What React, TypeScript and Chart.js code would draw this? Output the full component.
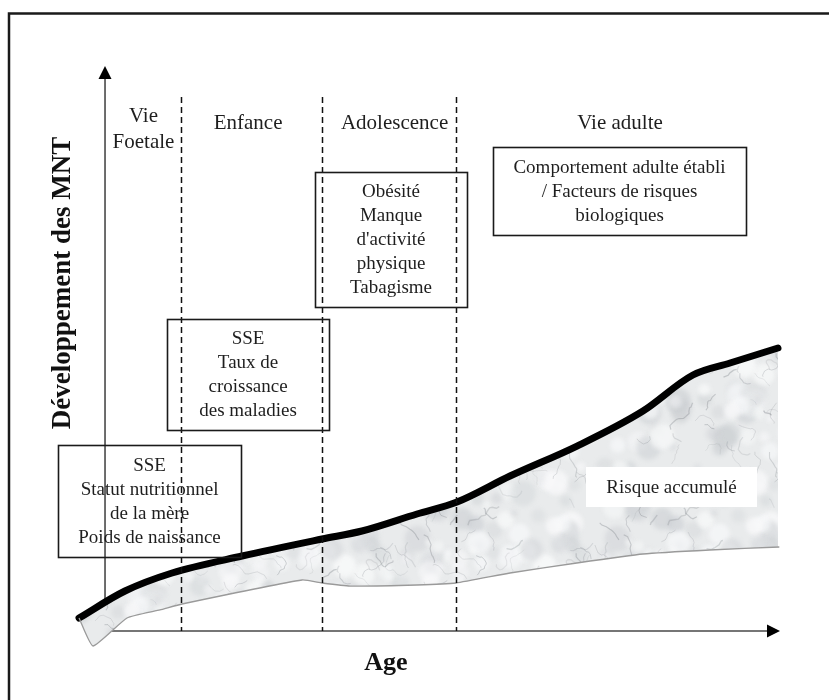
import { useEffect, useRef } from "react";
import { Chart, registerables } from "chart.js";

Chart.register(...registerables);

// ---- Data (abstract units: Age 0..100 along the x arrow, risk 0..100 along the y arrow)
const AGE_UPPER = [-3.85, 2.96, 9.93, 20.3, 32.15, 38.07, 46.22, 52.15, 60.0, 69.93, 79.7, 87.1, 92.6, 99.7];
const RISK_UPPER = [2.3, 7.08, 10.27, 13.27, 16.28, 17.7, 20.71, 22.83, 27.43, 32.74, 38.94, 45.31, 47.43, 50.09];
const AGE_LOWER = [-3.85, -1.78, 3.26, 8.15, 11.4, 29.2, 32.15, 36.3, 46.2, 52.0, 60.0, 69.9, 79.7, 89.6, 99.9];
const RISK_LOWER = [2.3, -2.65, 2.3, 3.72, 4.78, 9.03, 8.5, 7.96, 8.14, 8.5, 10.27, 12.04, 13.63, 14.34, 14.87];

const AGE_MIN = -15.56;
const AGE_MAX = 107.26;
const RISK_MIN = -12.21;
const RISK_MAX = 111.68;

const AXIS_END = 100;
const STAGE_BOUNDARIES = [11.26, 32.15, 52.0];
const BOUNDARY_TOP = 94.5;

const PHASE_LABELS = [["Vie", "Foetale"], ["Enfance"], ["Adolescence"], ["Vie adulte"]];
const PHASE_AGE = [5.7, 21.2, 42.9, 76.3];
const PHASE_RISK = [88.7, 89.9, 89.9, 89.9];

const BOX_LINES = [
  ["SSE", "Statut nutritionnel", "de la mère", "Poids de naissance"],
  ["SSE", "Taux de", "croissance", "des maladies"],
  ["Obésité", "Manque", "d'activité", "physique", "Tabagisme"],
  ["Comportement adulte établi", "/ Facteurs de risques", "biologiques"],
];
const BOX_AGE_FROM = [-6.96, 9.19, 31.11, 57.48];
const BOX_AGE_TO = [20.15, 33.19, 53.63, 94.96];
const BOX_RISK_TOP = [32.92, 55.22, 81.24, 85.66];
const BOX_RISK_BOTTOM = [13.1, 35.58, 57.35, 70.09];

const RISK_LABEL = "Risque accumulé";
const RISK_LABEL_AGE = [71.26, 96.59];
const RISK_LABEL_RISK = [29.03, 21.95];

const Y_TITLE = "Développement des MNT";
const Y_TITLE_POS = [-6.22, 61.6];
const X_TITLE = "Age";
const X_TITLE_POS = [41.6, -5.66];

const SERIF = '"Liberation Serif", "Times New Roman", serif';

function makeMarble(): CanvasPattern | string {
  const size = 200;
  const c = document.createElement("canvas");
  c.width = size;
  c.height = size;
  const g = c.getContext("2d");
  if (!g) return "#e9eaeb";
  g.fillStyle = "#e9ebec";
  g.fillRect(0, 0, size, size);
  let s = 424242;
  const rnd = () => {
    s = (s * 1103515245 + 12345) & 0x7fffffff;
    return s / 0x7fffffff;
  };
  const offs = [-size, 0, size];
  (g as any).filter = "blur(2px)";
  for (let i = 0; i < 120; i++) {
    const x = rnd() * size;
    const y = rnd() * size;
    const r = 3 + rnd() * 10;
    const light = rnd() > 0.45;
    g.fillStyle = light ? `rgba(248,249,250,${0.4 + rnd() * 0.4})` : `rgba(200,204,208,${0.25 + rnd() * 0.3})`;
    for (const dx of offs)
      for (const dy of offs) {
        g.beginPath();
        g.arc(x + dx, y + dy, r, 0, Math.PI * 2);
        g.fill();
      }
  }
  (g as any).filter = "blur(0.6px)";
  for (let i = 0; i < 60; i++) {
    const pts: number[][] = [];
    let x = rnd() * size;
    let y = rnd() * size;
    let a = rnd() * Math.PI * 2;
    const steps = (4 + rnd() * 10) | 0;
    for (let k = 0; k < steps; k++) {
      pts.push([x, y]);
      a += (rnd() - 0.5) * 2.0;
      const len = 1.5 + rnd() * 3.5;
      x += Math.cos(a) * len;
      y += Math.sin(a) * len;
    }
    g.strokeStyle = `rgba(110,115,122,${0.12 + rnd() * 0.22})`;
    g.lineWidth = 0.6 + rnd() * 0.9;
    for (const dx of offs)
      for (const dy of offs) {
        g.beginPath();
        pts.forEach((p, k) => (k === 0 ? g.moveTo(p[0] + dx, p[1] + dy) : g.lineTo(p[0] + dx, p[1] + dy)));
        g.stroke();
      }
  }
  (g as any).filter = "none";
  return g.createPattern(c, "repeat") || "#e9eaeb";
}

const diagramPlugin = {
  id: "diagram",
  beforeDatasetsDraw(chart: any) {
    const ctx: CanvasRenderingContext2D = chart.ctx;
    const xs = chart.scales.x;
    const ys = chart.scales.y;
    const px = (v: number) => xs.getPixelForValue(v);
    const py = (v: number) => ys.getPixelForValue(v);
    ctx.save();
    // outer frame
    ctx.strokeStyle = "#1a1a1a";
    ctx.lineWidth = 2.5;
    ctx.beginPath();
    ctx.moveTo(9, 710);
    ctx.lineTo(9, 13.5);
    ctx.lineTo(840, 13.5);
    ctx.stroke();
    // axes
    const x0 = px(0);
    const y0 = py(0);
    const xEnd = px(AXIS_END);
    const yEnd = py(AXIS_END);
    ctx.strokeStyle = "#4a4a4a";
    ctx.lineWidth = 1.6;
    ctx.beginPath();
    ctx.moveTo(x0, y0);
    ctx.lineTo(x0, yEnd + 10);
    ctx.moveTo(x0, y0);
    ctx.lineTo(xEnd - 10, y0);
    ctx.stroke();
    ctx.fillStyle = "#000";
    ctx.beginPath();
    ctx.moveTo(x0, yEnd);
    ctx.lineTo(x0 - 6.5, yEnd + 13);
    ctx.lineTo(x0 + 6.5, yEnd + 13);
    ctx.closePath();
    ctx.fill();
    ctx.beginPath();
    ctx.moveTo(xEnd, y0);
    ctx.lineTo(xEnd - 13, y0 - 6.5);
    ctx.lineTo(xEnd - 13, y0 + 6.5);
    ctx.closePath();
    ctx.fill();
    ctx.restore();
  },
  afterDatasetsDraw(chart: any) {
    const ctx: CanvasRenderingContext2D = chart.ctx;
    const xs = chart.scales.x;
    const ys = chart.scales.y;
    const px = (v: number) => xs.getPixelForValue(v);
    const py = (v: number) => ys.getPixelForValue(v);
    ctx.save();
    // stage boundaries
    ctx.strokeStyle = "#111";
    ctx.lineWidth = 1.5;
    ctx.setLineDash([6, 4]);
    for (const b of STAGE_BOUNDARIES) {
      ctx.beginPath();
      ctx.moveTo(Math.round(px(b)) + 0.5, py(BOUNDARY_TOP));
      ctx.lineTo(Math.round(px(b)) + 0.5, py(0));
      ctx.stroke();
    }
    ctx.setLineDash([]);

    ctx.fillStyle = "#1e1e1e";
    ctx.textAlign = "center";
    ctx.textBaseline = "middle";
    // phase labels
    ctx.font = `21px ${SERIF}`;
    PHASE_LABELS.forEach((lines, i) => {
      const cx = px(PHASE_AGE[i]);
      const cy = py(PHASE_RISK[i]);
      const lh = 26;
      lines.forEach((t, k) => {
        ctx.fillText(t, cx, cy + (k - (lines.length - 1) / 2) * lh);
      });
    });
    // boxes
    ctx.font = `19px ${SERIF}`;
    BOX_LINES.forEach((lines, i) => {
      const l = px(BOX_AGE_FROM[i]);
      const r = px(BOX_AGE_TO[i]);
      const t = py(BOX_RISK_TOP[i]);
      const b = py(BOX_RISK_BOTTOM[i]);
      ctx.strokeStyle = "#1a1a1a";
      ctx.lineWidth = 1.6;
      ctx.strokeRect(Math.round(l) + 0.5, Math.round(t) + 0.5, Math.round(r - l), Math.round(b - t));
      const cx = (l + r) / 2;
      const cy = (t + b) / 2 + 1;
      const lh = 24;
      lines.forEach((txt, k) => {
        ctx.fillStyle = "#1e1e1e";
        ctx.fillText(txt, cx, cy + (k - (lines.length - 1) / 2) * lh);
      });
    });
    // risk label
    {
      const l = px(RISK_LABEL_AGE[0]);
      const r = px(RISK_LABEL_AGE[1]);
      const t = py(RISK_LABEL_RISK[0]);
      const b = py(RISK_LABEL_RISK[1]);
      ctx.fillStyle = "#ffffff";
      ctx.fillRect(l, t, r - l, b - t);
      ctx.fillStyle = "#1e1e1e";
      ctx.font = `19px ${SERIF}`;
      ctx.fillText(RISK_LABEL, (l + r) / 2, (t + b) / 2 + 1);
    }
    // axis titles
    ctx.fillStyle = "#111";
    ctx.font = `bold 26px ${SERIF}`;
    ctx.fillText(X_TITLE, px(X_TITLE_POS[0]), py(X_TITLE_POS[1]));
    ctx.save();
    ctx.translate(px(Y_TITLE_POS[0]), py(Y_TITLE_POS[1]));
    ctx.rotate(-Math.PI / 2);
    ctx.font = `bold 27px ${SERIF}`;
    ctx.fillText(Y_TITLE, 0, 0);
    ctx.restore();
    ctx.restore();
  },
};

export default function App() {
  const ref = useRef<HTMLCanvasElement | null>(null);
  useEffect(() => {
    if (!ref.current) return;
    const marble = makeMarble();
    const chart = new Chart(ref.current, {
      type: "line",
      data: {
        datasets: [
          {
            label: "lower",
            data: AGE_LOWER.map((x, i) => ({ x, y: RISK_LOWER[i] })),
            borderColor: "#9a9a9a",
            borderWidth: 1.3,
            pointRadius: 0,
            tension: 0.15,
            fill: false,
          },
          {
            label: "upper",
            data: AGE_UPPER.map((x, i) => ({ x, y: RISK_UPPER[i] })),
            borderColor: "#000000",
            borderWidth: 7,
            borderCapStyle: "round",
            borderJoinStyle: "round",
            pointRadius: 0,
            cubicInterpolationMode: "monotone",
            fill: "-1",
            backgroundColor: marble as any,
          },
        ],
      },
      options: {
        responsive: false,
        maintainAspectRatio: false,
        animation: false,
        layout: { padding: 0 },
        plugins: { legend: { display: false }, tooltip: { enabled: false }, title: { display: false } },
        events: [],
        scales: {
          x: { type: "linear", display: false, min: AGE_MIN, max: AGE_MAX },
          y: { type: "linear", display: false, min: RISK_MIN, max: RISK_MAX },
        },
      },
      plugins: [diagramPlugin],
    });
    return () => chart.destroy();
  }, []);
  return (
    <div style={{ position: "absolute", left: 0, top: 0, width: 829, height: 700, background: "#fff" }}>
      <canvas ref={ref} width={829} height={700} style={{ display: "block" }} />
    </div>
  );
}
